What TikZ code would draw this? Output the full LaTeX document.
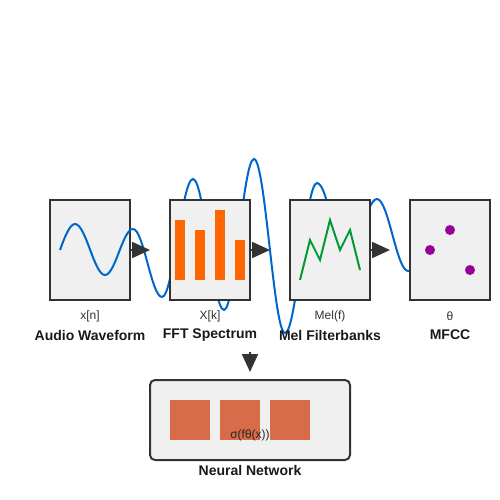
\documentclass[tikz,border=0pt]{standalone}
\usepackage{fontspec}
\setmainfont{Liberation Sans}
\usetikzlibrary{arrows.meta}
\definecolor{boxfill}{HTML}{F0F0F0}
\definecolor{boxline}{HTML}{333333}
\definecolor{wavecol}{HTML}{0066CC}
\definecolor{barcol}{HTML}{FF6600}
\definecolor{melcol}{HTML}{009933}
\definecolor{dotcol}{HTML}{990099}
\definecolor{layercol}{HTML}{D86B4A}
\tikzset{
    stage/.style = {rectangle, draw=boxline, fill=boxfill, line width=2pt, minimum width=80pt, minimum height=100pt, inner sep=0pt},
    netbox/.style = {stage, rounded corners=5pt, minimum width=200pt, minimum height=80pt},
    layer/.style = {rectangle, fill=layercol, minimum width=40pt, minimum height=40pt, inner sep=0pt},
    sym/.style = {inner sep=0pt, font=\fontsize{12}{14}\selectfont, text=boxline},
    title/.style = {inner sep=0pt, font=\bfseries\fontsize{14}{17}\selectfont, text=black!90},
    flow/.style = {draw=boxline, line width=2pt, -{Triangle[length=18pt,width=16pt]}},
    wave/.style = {draw=wavecol, line width=2pt},
    dot/.style = {circle, fill=dotcol, minimum size=10pt, inner sep=0pt}
}
\begin{document}
\begin{tikzpicture}[x=1pt, y=-1pt]
    \useasboundingbox (0,0) rectangle (500,500);

    % first stage, the wave runs over it
    \node [stage] (audio) at (90,250) {};
    \draw [wave] (60,250) .. controls (65,236) and (70,224) .. (75,224)
        \foreach \x/\y [remember=\x as \lx (initially 75), remember=\y as \ly (initially 224)] in
            {105/275, 133/229, 162/297, 193/179, 224/310, 254/159, 285/333, 317/183, 347/258, 377/199, 408/271}
        { .. controls ({\lx+0.364*(\x-\lx)},\ly) and ({\x-0.364*(\x-\lx)},\y) .. (\x,\y) } -- (414,271);

    % the other stages hide the wave
    \node [stage] (fft) at (210,250) {};
    \node [stage] (mel) at (330,250) {};
    \node [stage] (mfcc) at (450,250) {};

    % spectrum bars
    \foreach \bx/\by in {175/220, 195/230, 215/210, 235/240}
        \fill [barcol] (\bx,\by) rectangle ++(10,280-\by);

    % filterbank line
    \draw [melcol, line width=2pt] (300,280) -- (310,240) -- (320,260) -- (330,220)
        -- (340,250) -- (350,230) -- (360,270);

    % coefficients
    \node [dot] (c1) at (450,230) {};
    \node [dot] (c2) at (430,250) {};
    \node [dot] (c3) at (470,270) {};

    % labels
    \node [sym] (audiosym) at (90,316) {x[n]};
    \node [title] (audiotitle) at (90,335) {Audio Waveform};
    \node [sym] (fftsym) at (210,316) {X[k]};
    \node [title] (ffttitle) at (210,335) {FFT Spectrum};
    \node [sym] (melsym) at (330,316) {Mel(f)};
    \node [title] (meltitle) at (330,335) {Mel Filterbanks};
    \node [sym] (mfccsym) at (450,316) {θ};
    \node [title] (mfcctitle) at (450,335) {MFCC};

    % arrows between stages
    \coordinate (tip1) at (150,250);
    \coordinate (tip2) at (270,250);
    \coordinate (tip3) at (390,250);
    \draw [flow] (audio.east) -- (tip1);
    \draw [flow] (fft.east) -- (tip2);
    \draw [flow] (mel.east) -- (tip3);

    % network
    \node [netbox] (net) at (250,420) {};
    \node [layer] (l1) at (190,420) {};
    \node [layer] (l2) at (240,420) {};
    \node [layer] (l3) at (290,420) {};
    \node [sym, text=black!85] (netsym) at (250,435) {σ(fθ(x))};
    \node [title] (nettitle) at (250,470) {Neural Network};
    \coordinate (down0) at (250,352);
    \coordinate (down1) at (250,372);
    \draw [flow] (down0) -- (down1);
\end{tikzpicture}
\end{document}
